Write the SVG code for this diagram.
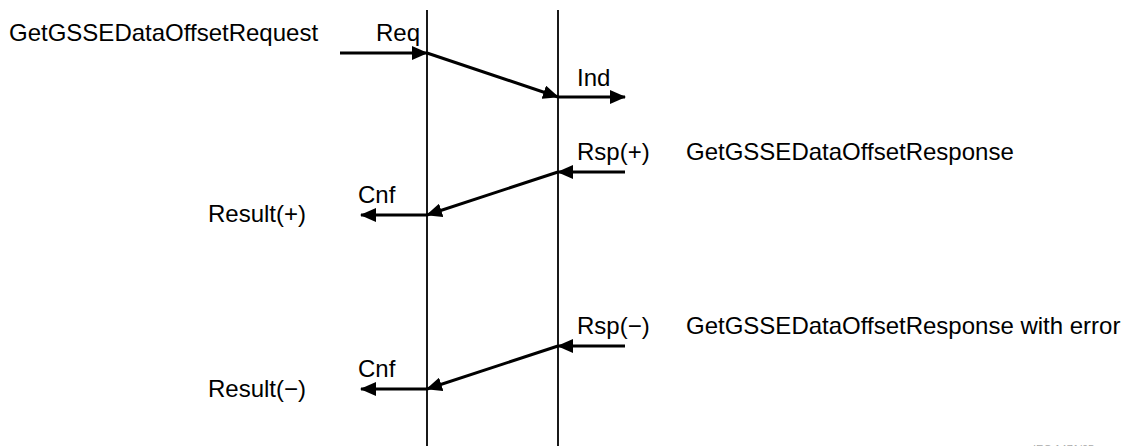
<svg xmlns="http://www.w3.org/2000/svg" width="1131" height="446" viewBox="0 0 1131 446">
<style>
text{font-family:"Liberation Sans",Arial,sans-serif;font-size:24px;fill:#000}
.life{stroke:#000;stroke-width:1.8;fill:none}
.msg{stroke:#000;stroke-width:3;fill:none}
.tag{font-size:11px;fill:#aaa}
</style>
<defs>
<marker id="ah" markerUnits="userSpaceOnUse" markerWidth="16" markerHeight="14" refX="15" refY="7" orient="auto">
<path d="M0,0 L16,7 L0,14 Z" fill="#000"/>
</marker>
</defs>
<rect width="1131" height="446" fill="#fff"/>
<g id="lifeline-a"><line class="life" x1="427" y1="10" x2="427" y2="446"/></g>
<g id="lifeline-b"><line class="life" x1="558" y1="10" x2="558" y2="446"/></g>
<g id="connectors">
<line class="msg" x1="340" y1="53" x2="427" y2="53" marker-end="url(#ah)"/>
<line class="msg" x1="427" y1="53" x2="558" y2="97" marker-end="url(#ah)"/>
<line class="msg" x1="558" y1="97" x2="625" y2="97" marker-end="url(#ah)"/>
<line class="msg" x1="625" y1="172" x2="558" y2="172" marker-end="url(#ah)"/>
<line class="msg" x1="558" y1="172" x2="427" y2="215" marker-end="url(#ah)"/>
<line class="msg" x1="427" y1="215" x2="361" y2="215" marker-end="url(#ah)"/>
<line class="msg" x1="625" y1="346" x2="558" y2="346" marker-end="url(#ah)"/>
<line class="msg" x1="558" y1="346" x2="427" y2="389" marker-end="url(#ah)"/>
<line class="msg" x1="427" y1="389" x2="361" y2="389" marker-end="url(#ah)"/>
</g>
<g id="labels">
<text x="9" y="41">GetGSSEDataOffsetRequest</text>
<text x="376" y="41">Req</text>
<text x="577" y="86">Ind</text>
<text x="577" y="160">Rsp(+)</text>
<text x="686" y="160">GetGSSEDataOffsetResponse</text>
<text x="358" y="203">Cnf</text>
<text x="208" y="222">Result(+)</text>
<text x="577" y="334">Rsp(−)</text>
<text x="686" y="334">GetGSSEDataOffsetResponse with error</text>
<text x="358" y="377">Cnf</text>
<text x="208" y="397">Result(−)</text>
<text class="tag" x="1033" y="453">IEC   1471/05</text>
</g>
</svg>
